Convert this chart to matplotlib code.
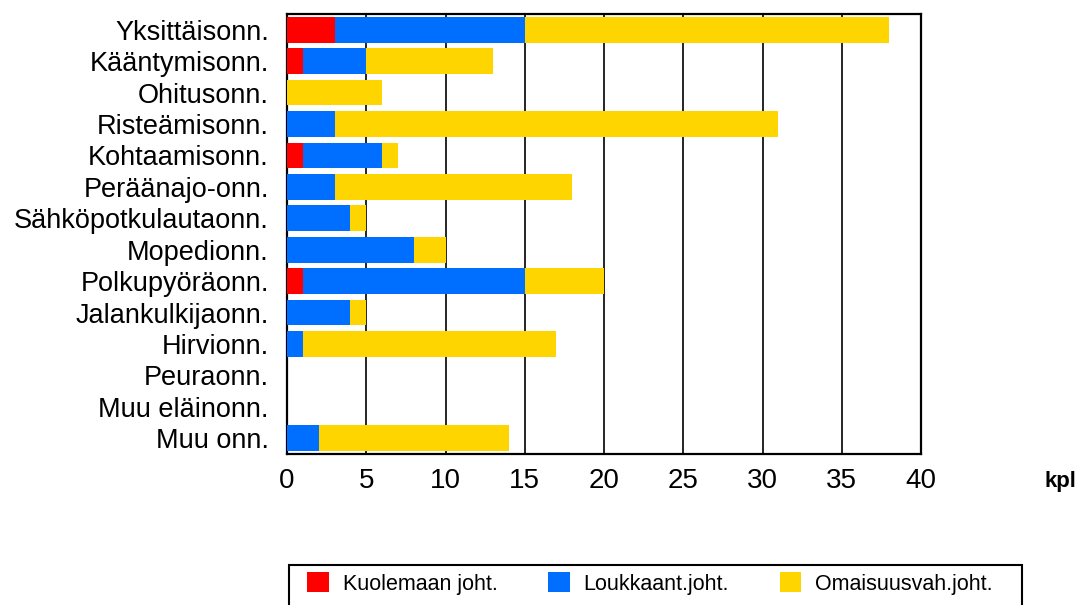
import matplotlib
matplotlib.use("Agg")
from matplotlib import pyplot as plt
import matplotlib.patches as mpatches
import numpy as np

kategoriat = ["Yksittäisonn.", "Kääntymisonn.", "Ohitusonn.", "Risteämisonn.",
              "Kohtaamisonn.", "Peräänajo-onn.", "Sähköpotkulautaonn.", "Mopedionn.",
              "Polkupyöräonn.", "Jalankulkijaonn.", "Hirvionn.", "Peuraonn.",
              "Muu eläinonn.", "Muu onn."]
kuolema = np.array([3, 1, 0, 0, 1, 0, 0, 0, 1, 0, 0, 0, 0, 0])
loukkaant = np.array([12, 4, 0, 3, 5, 3, 4, 8, 14, 4, 1, 0, 0, 2])
omaisuus = np.array([23, 8, 6, 28, 1, 15, 1, 2, 5, 1, 16, 0, 0, 12])
sarjat = ["Kuolemaan joht.", "Loukkaant.joht.", "Omaisuusvah.joht."]
varit = ["#FF0000", "#006EFF", "#FFD500"]
xticks = [0, 5, 10, 15, 20, 25, 30, 35, 40]

fig = plt.figure(figsize=(10.79, 6.05), dpi=100)
ax = fig.add_axes([287/1079, 1-454/605, (921-287)/1079, (454-14)/605])

y = np.arange(len(kategoriat))
h = 0.82
b1 = ax.barh(y, kuolema, height=h, color=varit[0], label=sarjat[0], zorder=3)
b2 = ax.barh(y, loukkaant, left=kuolema, height=h, color=varit[1], label=sarjat[1], zorder=3)
b3 = ax.barh(y, omaisuus, left=kuolema+loukkaant, height=h, color=varit[2], label=sarjat[2], zorder=3)

ax.set_ylim(len(kategoriat)-0.5, -0.5)
ax.set_xlim(0, 40)
ax.set_xticks(xticks)
ax.set_xticklabels([str(t) for t in xticks], fontfamily="Liberation Sans", fontsize=20)
ax.set_yticks(y)
ax.set_yticklabels(kategoriat, fontfamily="Liberation Sans", fontsize=19.5)
ax.tick_params(axis="both", length=0)
ax.tick_params(axis="x", pad=10)
ax.tick_params(axis="y", pad=13)
ax.grid(axis="x", color="black", lw=1.2, zorder=1)
for s in ax.spines.values():
    s.set_linewidth(1.6)
    s.set_color("black")

fig.text(1060/1079, 1-482/605, "kpl", fontfamily="Liberation Sans", fontweight="bold",
         fontsize=16, ha="center", va="center")

# legend box (bottom cut off by the figure edge)
fig.patches.append(mpatches.Rectangle((289/1079, -0.05), (1022-289)/1079, (605-565)/605+0.05,
                                      transform=fig.transFigure, fill=False, lw=1.5,
                                      edgecolor="black", clip_on=False))
fig.legend(handles=[b1, b2, b3], loc="center left", ncol=3, frameon=False,
           bbox_to_anchor=(307/1079, 1-583.5/605), prop={"family": "Liberation Sans", "size": 15.5},
           handlelength=1.0, handleheight=1.0, handletextpad=0.65, columnspacing=2.35,
           borderpad=0, borderaxespad=0)

fig.savefig("out.png", dpi=100)
